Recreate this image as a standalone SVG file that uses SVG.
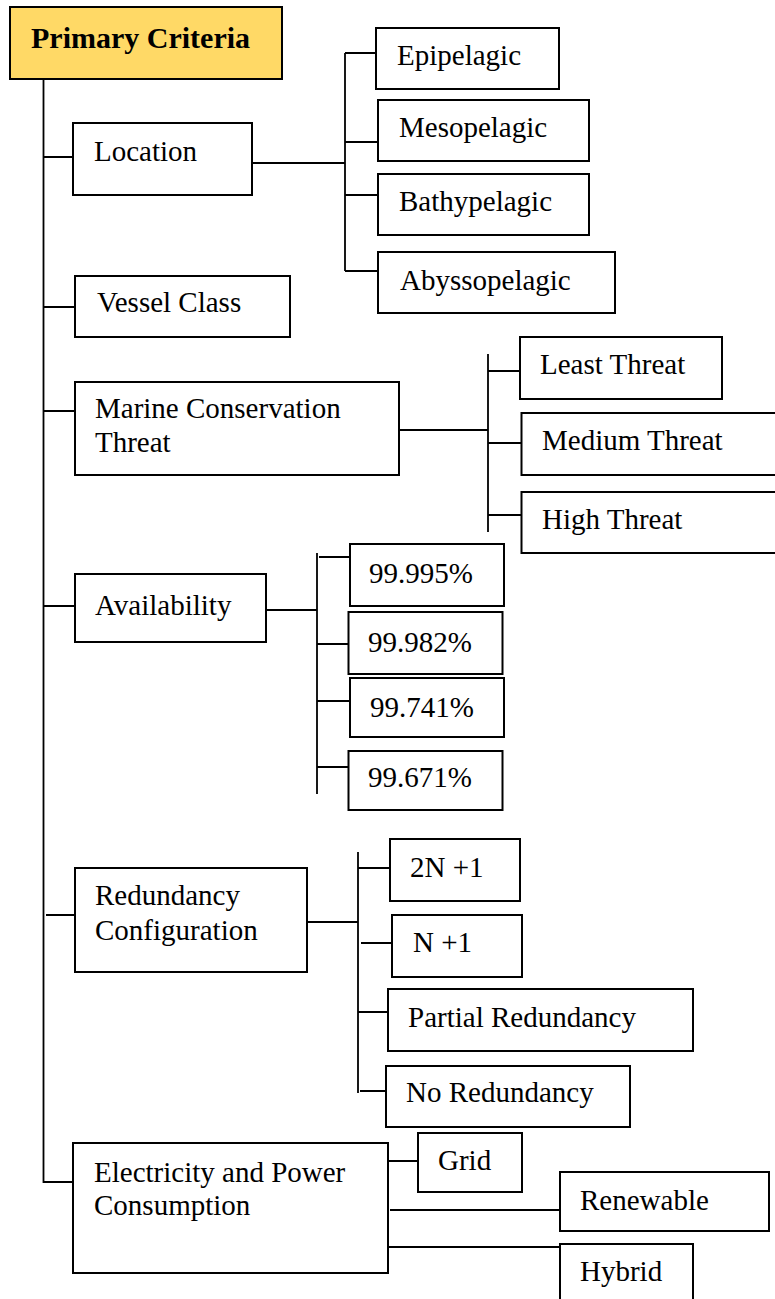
<svg xmlns="http://www.w3.org/2000/svg" width="775" height="1299" viewBox="0 0 775 1299">
<style>
.box{fill:#ffffff;stroke:#000000;stroke-width:2}
.root{fill:#FFD966;stroke:#000000;stroke-width:2}
.t{font-size:29px;fill:#000000}
.tb{font-size:30px;font-weight:bold;fill:#000000}
.ln{fill:none;stroke:#000000;stroke-width:1.8}
</style>
<rect width="775" height="1299" fill="#ffffff"/>
<g id="connectors">
<path class="ln" d="M43.5 79 V1182 H73"/>
<path class="ln" d="M43.5 157 H73 M43.5 307 H75 M43.5 411 H75 M43.5 606 H75 M46 915 H75"/>
<path class="ln" d="M252 163 H345 M345 53 V271 M345 53 H376 M345 142 H378 M345 195 H378 M345 271 H378"/>
<path class="ln" d="M399 430 H488 M488 354 V532 M488 371 H520 M488 443 H521 M488 515 H521"/>
<path class="ln" d="M266 610 H317 M317 553 V794 M319 557 H350 M317 644 H348 M317 701 H350 M317 767 H348"/>
<path class="ln" d="M307 922 H358 M358 852 V1093 M358 868 H390 M361 943 H392 M358 1012 H388 M360 1091 H386"/>
<path class="ln" d="M388 1161 H418 M390 1210 H560 M388 1247 H560"/>
</g>
<g font-family="'Liberation Serif', 'DejaVu Serif', serif">
<g id="primary-criteria">
<rect class="root" x="10" y="7" width="272" height="72"/>
<text class="tb" x="31" y="48">Primary Criteria</text>
</g>
<g id="location">
<rect class="box" x="73" y="123" width="179" height="72"/>
<text class="t" x="94" y="161">Location</text>
</g>
<g id="epipelagic">
<rect class="box" x="376" y="28" width="183" height="61"/>
<text class="t" x="397" y="65">Epipelagic</text>
</g>
<g id="mesopelagic">
<rect class="box" x="378" y="100" width="211" height="61"/>
<text class="t" x="399" y="137">Mesopelagic</text>
</g>
<g id="bathypelagic">
<rect class="box" x="378" y="174" width="211" height="61"/>
<text class="t" x="399" y="211">Bathypelagic</text>
</g>
<g id="abyssopelagic">
<rect class="box" x="378" y="252" width="237" height="61"/>
<text class="t" x="400" y="290">Abyssopelagic</text>
</g>
<g id="vessel-class">
<rect class="box" x="75" y="276" width="215" height="61"/>
<text class="t" x="97" y="312">Vessel Class</text>
</g>
<g id="marine-conservation-threat">
<rect class="box" x="75" y="382" width="324" height="93"/>
<text class="t" x="95" y="418">Marine Conservation</text>
<text class="t" x="95" y="452">Threat</text>
</g>
<g id="least-threat">
<rect class="box" x="520" y="337" width="202" height="62"/>
<text class="t" x="540" y="374">Least Threat</text>
</g>
<g id="medium-threat">
<rect class="box" x="521.5" y="413" width="260" height="62"/>
<text class="t" x="542" y="450">Medium Threat</text>
</g>
<g id="high-threat">
<rect class="box" x="521.5" y="492" width="260" height="61"/>
<text class="t" x="542" y="529">High Threat</text>
</g>
<g id="availability">
<rect class="box" x="75" y="574" width="191" height="68"/>
<text class="t" x="95" y="615">Availability</text>
</g>
<g id="a99995">
<rect class="box" x="350" y="544" width="154" height="62"/>
<text class="t" x="369" y="583">99.995%</text>
</g>
<g id="a99982">
<rect class="box" x="348.5" y="612" width="154" height="62"/>
<text class="t" x="368" y="652">99.982%</text>
</g>
<g id="a99741">
<rect class="box" x="350" y="678" width="154" height="59"/>
<text class="t" x="370" y="717">99.741%</text>
</g>
<g id="a99671">
<rect class="box" x="348.5" y="751" width="154" height="59"/>
<text class="t" x="368" y="787">99.671%</text>
</g>
<g id="redundancy-configuration">
<rect class="box" x="75" y="868" width="232" height="104"/>
<text class="t" x="95" y="905">Redundancy</text>
<text class="t" x="95" y="940">Configuration</text>
</g>
<g id="r-2n1">
<rect class="box" x="390" y="839" width="130" height="62"/>
<text class="t" x="410" y="877">2N +1</text>
</g>
<g id="r-n1">
<rect class="box" x="392" y="915" width="130" height="62"/>
<text class="t" x="413" y="952">N +1</text>
</g>
<g id="partial-redundancy">
<rect class="box" x="388" y="989" width="305" height="62"/>
<text class="t" x="408" y="1027">Partial Redundancy</text>
</g>
<g id="no-redundancy">
<rect class="box" x="386" y="1066" width="244" height="61"/>
<text class="t" x="406" y="1102">No Redundancy</text>
</g>
<g id="electricity">
<rect class="box" x="73" y="1143" width="315" height="130"/>
<text class="t" x="94" y="1182">Electricity and Power</text>
<text class="t" x="94" y="1215">Consumption</text>
</g>
<g id="grid">
<rect class="box" x="418" y="1133" width="104" height="59"/>
<text class="t" x="438" y="1170">Grid</text>
</g>
<g id="renewable">
<rect class="box" x="560" y="1172" width="209" height="59"/>
<text class="t" x="580" y="1210">Renewable</text>
</g>
<g id="hybrid">
<rect class="box" x="560" y="1244" width="133" height="70"/>
<text class="t" x="580" y="1281">Hybrid</text>
</g>
</g>
</svg>
